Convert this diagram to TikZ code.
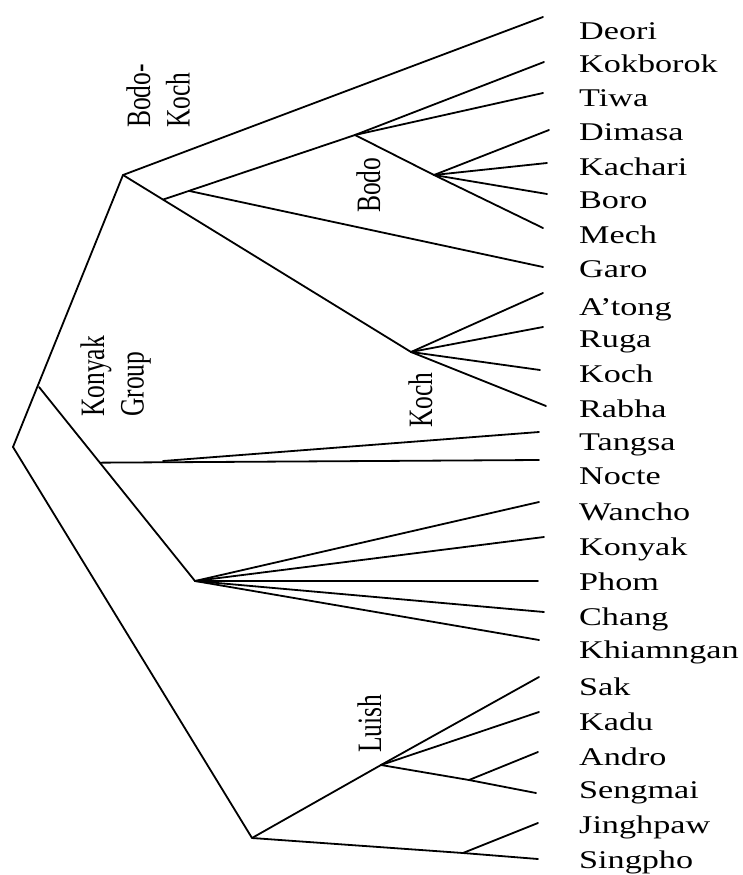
\documentclass[tikz,border=0pt]{standalone}
\usepackage{fontspec}
\setmainfont{Liberation Serif}
\usepackage{graphicx}
\usetikzlibrary{calc}
% labels are set wide: leaf names stretched along x, rotated clade names across their lines
\newcommand\wideword[1]{\scalebox{1.34}[1]{#1}}
\newcommand\tallword[1]{\scalebox{1}[1.34]{#1}}
\begin{document}
\begin{tikzpicture}[x=1pt,y=-1pt,
  branch/.style={line width=1.8pt, line cap=round, line join=round},
  leaf/.style={anchor=base west, inner sep=0pt, font=\fontsize{25.5}{29.5}\selectfont},
  clade/.style={rotate=90, anchor=base west, inner sep=0pt, font=\fontsize{25.5}{29.5}\selectfont}]
\useasboundingbox (0,0) rectangle (742,875);

% ---- inner nodes of the tree
\coordinate (root)       at (13,447);
\coordinate (konyakgrp)  at (39,387);
\coordinate (bodokoch)   at (123,175);
\coordinate (bodo)       at (355,135);
\coordinate (dimfork)    at (434,175);
\coordinate (koch)       at (411,352);
\coordinate (phomfan)    at (195,581);
\coordinate (luishroot)  at (252,838);
\coordinate (luish)      at (381,765);
\coordinate (androfork)  at (469,780);
\coordinate (jingfork)   at (463,853);
\coordinate (bkfork)     at ($(bodokoch)!0.139!(koch)$);
\coordinate (garofork)   at ($(bkfork)!0.135!(bodo)$);
\coordinate (nocteroot)  at ($(konyakgrp)!0.39!(phomfan)$);
\coordinate (tangsafork) at (163,461);

% ---- free ends of the branches
\coordinate (e-deori)     at (543,17);
\coordinate (e-kokborok)  at (544,62);
\coordinate (e-tiwa)      at (543,93);
\coordinate (e-dimasa)    at (549,130);
\coordinate (e-kachari)   at (547,163);
\coordinate (e-boro)      at (547,194);
\coordinate (e-mech)      at (543,228);
\coordinate (e-garo)      at (543,267);
\coordinate (e-atong)     at (543,293);
\coordinate (e-ruga)      at (543,327);
\coordinate (e-koch)      at (540,370);
\coordinate (e-rabha)     at (546,406);
\coordinate (e-tangsa)    at (539,432);
\coordinate (e-nocte)     at (539,460);
\coordinate (e-wancho)    at (539,502);
\coordinate (e-konyak)    at (544,537);
\coordinate (e-phom)      at (538,581);
\coordinate (e-chang)     at (544,612);
\coordinate (e-khiamngan) at (539,640);
\coordinate (e-sak)       at (539,677);
\coordinate (e-kadu)      at (539,712);
\coordinate (e-andro)     at (538,752);
\coordinate (e-sengmai)   at (536,793);
\coordinate (e-jinghpaw)  at (538,823);
\coordinate (e-singpho)   at (538,859);

% ---- Bodo-Koch
\draw[branch] (root) -- (bodokoch) -- (e-deori);
\draw[branch] (bodokoch) -- (koch);
\draw[branch] (bkfork) -- (bodo);
\draw[branch] (garofork) -- (e-garo);
\draw[branch] (bodo) -- (e-kokborok);
\draw[branch] (bodo) -- (e-tiwa);
\draw[branch] (bodo) -- (dimfork) -- (e-mech);
\foreach \t in {dimasa,kachari,boro} \draw[branch] (dimfork) -- (e-\t);
\foreach \t in {atong,ruga,koch,rabha} \draw[branch] (koch) -- (e-\t);

% ---- Konyak group
\draw[branch] (konyakgrp) -- (phomfan);
\draw[branch] (nocteroot) -- (e-nocte);
\draw[branch] (tangsafork) -- (e-tangsa);
\foreach \t in {wancho,konyak,phom,chang,khiamngan} \draw[branch] (phomfan) -- (e-\t);

% ---- Luish and Jinghpaw
\draw[branch] (root) -- (luishroot) -- (luish);
\draw[branch] (luish) -- (e-sak);
\draw[branch] (luish) -- (e-kadu);
\draw[branch] (luish) -- (androfork) -- (e-sengmai);
\draw[branch] (androfork) -- (e-andro);
\draw[branch] (luishroot) -- (jingfork) -- (e-singpho);
\draw[branch] (jingfork) -- (e-jinghpaw);

% ---- language names
\foreach \n/\y/\w in {deori/40/Deori, kokborok/73/Kokborok, tiwa/106/Tiwa,
    dimasa/140/Dimasa, kachari/175/Kachari, boro/208/Boro, mech/243/Mech,
    garo/277/Garo, atong/315/A’tong, ruga/347/Ruga, koch/382/Koch,
    rabha/417/Rabha, tangsa/450/Tangsa, nocte/484/Nocte, wancho/520/Wancho,
    konyak/555/Konyak, phom/590/Phom, chang/625/Chang, khiamngan/658/Khiamngan,
    sak/695/Sak, kadu/730/Kadu, andro/765/Andro, sengmai/798/Sengmai,
    jinghpaw/833/Jinghpaw, singpho/868/Singpho}
  \node[leaf] (l-\n) at (579,\y) {\wideword{\w}};

% ---- group names along the branches
\node[clade] (g-bodokoch) at (150,128)
  {\tallword{\begin{tabular}[t]{@{}l@{}}Bodo-\\Koch\end{tabular}}};
\node[clade] (g-konyak) at (104,417)
  {\tallword{\begin{tabular}[t]{@{}l@{}}Konyak\\Group\end{tabular}}};
\node[clade] (g-bodo)  at (380,213) {\tallword{Bodo}};
\node[clade] (g-koch)  at (432,428) {\tallword{Koch}};
\node[clade] (g-luish) at (381,753) {\tallword{Luish}};
\end{tikzpicture}
\end{document}
